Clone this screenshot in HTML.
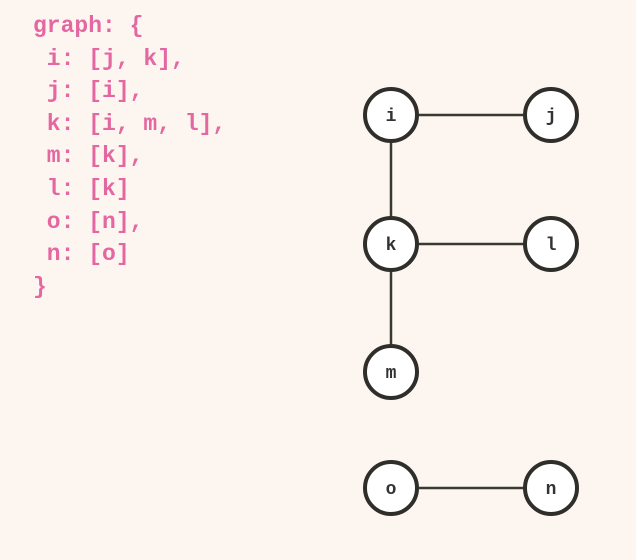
<!DOCTYPE html>
<html><head><meta charset="utf-8"><style>
html,body{margin:0;padding:0;background:#fdf6f0;}
body{width:636px;height:560px;position:relative;overflow:hidden;}
pre{position:absolute;left:33px;top:10px;margin:0;font:bold 23px/32.6px "Liberation Mono","DejaVu Sans Mono",monospace;color:#e467a1;}
svg{position:absolute;left:0;top:0;}
</style></head><body>
<pre>graph: {
 i: [j, k],
 j: [i],
 k: [i, m, l],
 m: [k],
 l: [k]
 o: [n],
 n: [o]
}</pre>
<svg width="636" height="560" font-family="Liberation Mono, DejaVu Sans Mono, monospace" font-weight="bold" font-size="18" fill="#333">
<g stroke="#3a3833" stroke-width="2.5">
<line x1="391" y1="115" x2="551" y2="115"/>
<line x1="391" y1="115" x2="391" y2="372"/>
<line x1="391" y1="244" x2="551" y2="244"/>
<line x1="391" y1="488" x2="551" y2="488"/>
</g>
<g fill="#fff" stroke="#2f2e2b" stroke-width="4">
<circle cx="391" cy="115" r="26"/>
<circle cx="551" cy="115" r="26"/>
<circle cx="391" cy="244" r="26"/>
<circle cx="551" cy="244" r="26"/>
<circle cx="391" cy="372" r="26"/>
<circle cx="391" cy="488" r="26"/>
<circle cx="551" cy="488" r="26"/>
</g>
<g text-anchor="middle" fill="#333">
<text x="391" y="121">i</text>
<text x="551" y="121">j</text>
<text x="391" y="250">k</text>
<text x="551" y="250">l</text>
<text x="391" y="378">m</text>
<text x="391" y="494">o</text>
<text x="551" y="494">n</text>
</g>
</svg>
</body></html>
